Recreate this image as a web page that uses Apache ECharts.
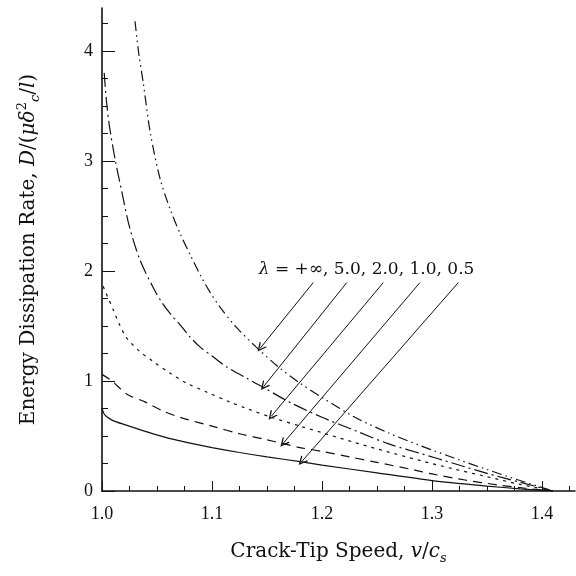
<!DOCTYPE html>
<html><head><meta charset="utf-8">
<script src="https://cdn.jsdelivr.net/npm/echarts@6/dist/echarts.min.js"></script>
<style>html,body{margin:0;padding:0;background:#fff}#c{width:576px;height:576px}</style>
</head><body><div id="c"></div>
<script>
// tick values
const xMajor = [1.0, 1.1, 1.2, 1.3, 1.4];
const xMinor = [1.025, 1.05, 1.075, 1.125, 1.15, 1.175, 1.225, 1.25, 1.275, 1.325, 1.35, 1.375, 1.425];
const yMajor = [0, 1, 2, 3, 4];
const yMinor = [0.25, 0.5, 0.75, 1.25, 1.5, 1.75, 2.25, 2.5, 2.75, 3.25, 3.5, 3.75, 4.25];

// curves (v/cs, D)
const lamInf = [[1.03,4.27],[1.0335,3.97],[1.0375,3.71],[1.044,3.25],[1.053,2.83],[1.062,2.56],[1.071,2.34],[1.081,2.13],[1.09,1.95],[1.098,1.81],[1.107,1.675],[1.121,1.50],[1.14,1.31],[1.16,1.13],[1.18,0.98],[1.2,0.85],[1.23,0.67],[1.26,0.53],[1.29,0.41],[1.32,0.30],[1.35,0.195],[1.38,0.095],[1.41,0]];
const lam5 = [[1.002,3.80],[1.004,3.55],[1.007,3.30],[1.012,3.01],[1.018,2.72],[1.025,2.40],[1.0345,2.10],[1.047,1.84],[1.054,1.72],[1.063,1.60],[1.071,1.51],[1.08,1.40],[1.089,1.31],[1.101,1.22],[1.113,1.13],[1.1315,1.025],[1.147,0.94],[1.17,0.81],[1.2,0.67],[1.23,0.55],[1.26,0.43],[1.29,0.34],[1.32,0.25],[1.35,0.16],[1.38,0.08],[1.41,0]];
const lam2 = [[1.001,1.86],[1.0103,1.645],[1.016,1.51],[1.0225,1.39],[1.033,1.28],[1.0467,1.175],[1.062,1.07],[1.077,0.98],[1.095,0.90],[1.116,0.81],[1.1315,0.75],[1.154,0.67],[1.18,0.59],[1.2,0.53],[1.23,0.44],[1.26,0.355],[1.29,0.275],[1.32,0.20],[1.35,0.13],[1.38,0.06],[1.41,0]];
const lam1 = [[1.0,1.06],[1.009,1.00],[1.0227,0.88],[1.039,0.81],[1.057,0.72],[1.074,0.66],[1.10,0.59],[1.125,0.52],[1.15,0.465],[1.165,0.43],[1.18,0.395],[1.2,0.36],[1.225,0.31],[1.25,0.26],[1.2845,0.19],[1.30,0.155],[1.33,0.10],[1.36,0.055],[1.385,0.025],[1.41,0]];
const lam05 = [[1.0,0.75],[1.002,0.70],[1.005,0.67],[1.01,0.64],[1.02,0.605],[1.04,0.54],[1.06,0.48],[1.08,0.435],[1.10,0.395],[1.125,0.35],[1.15,0.31],[1.18,0.267],[1.2,0.236],[1.25,0.165],[1.3,0.095],[1.35,0.045],[1.38,0.02],[1.41,0]];

// annotation arrows: [start, end] in data units
const arrows = [
  [[1.192,1.894],[1.144,1.30]],
  [[1.2225,1.894],[1.147,0.95]],
  [[1.2557,1.894],[1.154,0.68]],
  [[1.289,1.894],[1.1648,0.434]],
  [[1.3239,1.894],[1.1815,0.266]]
];
const labelPos = [1.2405, 2.01];
const labelText = '{i|λ} = +∞, 5.0, 2.0, 1.0, 0.5';

const FONT = 'Liberation Serif';
const TFONT = 'DejaVu Serif';
const INK = '#111';
const chevron = 'path://M0,10 L5,0 L10,10 L8.4,10 L5,3.2 L1.6,10 Z';

function curve(data, dash) {
  return {
    type: 'line', data: data, showSymbol: false, smooth: 0.3,
    xAxisIndex: 0, yAxisIndex: 0,
    lineStyle: { color: INK, width: 1.2, type: dash },
    silent: true
  };
}

const series = [
  curve(lamInf, [10, 4, 1.5, 4, 1.5, 4]),
  curve(lam5, [14, 4, 2, 4]),
  curve(lam2, [3, 5]),
  curve(lam1, [9, 6]),
  curve(lam05, 'solid')
];
series[4].markLine = {
  silent: true, animation: false,
  symbol: ['none', chevron], symbolSize: 9,
  label: { show: false },
  itemStyle: { color: INK },
  lineStyle: { color: INK, width: 1, type: 'solid' },
  data: arrows.map(a => [{ coord: a[0] }, { coord: a[1] }])
};
series[4].markPoint = {
  silent: true, animation: false,
  symbol: 'circle', symbolSize: 1, itemStyle: { color: 'rgba(0,0,0,0)' },
  label: {
    show: true, position: 'inside', formatter: labelText,
    fontFamily: TFONT, fontSize: 17, color: INK,
    rich: { i: { fontStyle: 'italic', fontFamily: TFONT, fontSize: 17, color: INK } }
  },
  data: [{ coord: labelPos }]
};

const chart = echarts.init(document.getElementById('c'), null, { renderer: 'canvas' });
chart.setOption({
  animation: false,
  backgroundColor: '#fff',
  grid: { left: 102, right: 1, top: 8, bottom: 85, containLabel: false },
  xAxis: [{
    type: 'value', min: 1.0, max: 1.43,
    axisLine: { show: true, onZero: false, lineStyle: { color: INK, width: 1.6 } },
    axisTick: { show: true, inside: true, length: 10, customValues: xMajor, lineStyle: { color: INK, width: 1 } },
    axisLabel: { customValues: xMajor, formatter: v => v.toFixed(1), margin: 14, fontFamily: FONT, fontSize: 18, color: INK },
    splitLine: { show: false },
    name: 'Crack-Tip Speed, {i|v}/{i|c}{sub|s}', nameLocation: 'middle', nameGap: 48,
    nameTextStyle: {
      fontFamily: TFONT, fontSize: 20, color: INK, lineHeight: 26,
      rich: {
        i: { fontStyle: 'italic', fontFamily: TFONT, fontSize: 20, color: INK, lineHeight: 26 },
        sub: { fontStyle: 'italic', fontFamily: TFONT, fontSize: 13, color: INK, lineHeight: 13, verticalAlign: 'bottom' }
      }
    }
  }, {
    type: 'value', min: 1.0, max: 1.43, position: 'bottom',
    axisLine: { show: false },
    axisTick: { show: true, inside: true, length: 5, customValues: xMinor, lineStyle: { color: INK, width: 1 } },
    axisLabel: { show: false }, splitLine: { show: false }
  }],
  yAxis: [{
    type: 'value', min: 0, max: 4.39,
    axisLine: { show: true, onZero: false, lineStyle: { color: INK, width: 1.6 } },
    axisTick: { show: true, inside: true, length: 13, customValues: yMajor, lineStyle: { color: INK, width: 1 } },
    axisLabel: { customValues: yMajor, formatter: v => String(v), margin: 9, fontFamily: FONT, fontSize: 18, color: INK },
    splitLine: { show: false },
    name: 'Energy Dissipation Rate, {i|D}/({i|μδ}{sup|2}{sub|c}/{i|l})', nameLocation: 'middle', nameGap: 60,
    nameTextStyle: {
      fontFamily: TFONT, fontSize: 20, color: INK, lineHeight: 26,
      rich: {
        i: { fontStyle: 'italic', fontFamily: TFONT, fontSize: 20, color: INK, lineHeight: 26 },
        sup: { fontFamily: TFONT, fontSize: 13, color: INK, lineHeight: 13, verticalAlign: 'top' },
        sub: { fontStyle: 'italic', fontFamily: TFONT, fontSize: 13, color: INK, lineHeight: 13, verticalAlign: 'bottom' }
      }
    }
  }, {
    type: 'value', min: 0, max: 4.39, position: 'left',
    axisLine: { show: false },
    axisTick: { show: true, inside: true, length: 6, customValues: yMinor, lineStyle: { color: INK, width: 1 } },
    axisLabel: { show: false }, splitLine: { show: false }
  }],
  series: series
});
</script>
</body></html>
